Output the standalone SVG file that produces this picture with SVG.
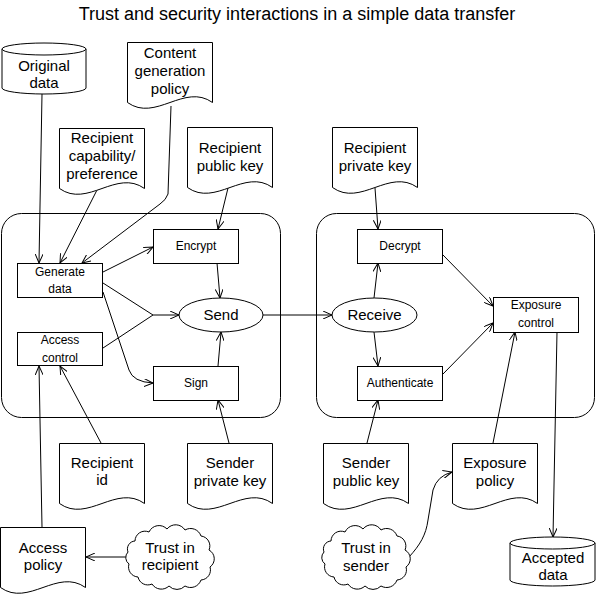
<svg xmlns="http://www.w3.org/2000/svg" width="596" height="594" viewBox="0 0 596 594">
<style>
.s{fill:#fff;stroke:#000;stroke-width:1}
.c{fill:none;stroke:#000;stroke-width:1}
text{font-family:"Liberation Sans",Arial,sans-serif;fill:#000;text-anchor:middle}
.t15{font-size:15px}
.t12{font-size:12px}
.title{font-size:18px}
</style>
<defs>
<marker id="arr" viewBox="0 0 10 8" markerUnits="userSpaceOnUse" markerWidth="10" markerHeight="8" refX="9" refY="4" orient="auto">
<path d="M0,0 L9,4 L0,8" fill="none" stroke="#000" stroke-width="1"/>
</marker>
<path id="doc" d="M0,0 H85 V60 C57,40 28,80 0,60 Z"/>
<path id="cloud" d="M8,14 A10,10 0 0 1 22,5 A11,11 0 0 1 40,2 A11,11 0 0 1 58,3 A11,11 0 0 1 74,9 A10,10 0 0 1 82,23 A10,10 0 0 1 83,40 A10,10 0 0 1 74,53 A11,11 0 0 1 58,59 A11,11 0 0 1 42,59 A11,11 0 0 1 25,57 A10,10 0 0 1 11,50 A10,10 0 0 1 2,37 A8,8 0 0 1 1,25 A8,8 0 0 1 8,14 Z"/>
</defs>
<rect width="596" height="594" fill="#fff"/>
<text class="title" x="297" y="20">Trust and security interactions in a simple data transfer</text>

<g id="sender-boundary"><rect class="s" x="1.5" y="213.5" width="279" height="204" rx="20" ry="20"/></g>
<g id="receiver-boundary"><rect class="s" x="316.5" y="213.5" width="278" height="204" rx="20" ry="20"/></g>

<g id="connectors">
<path class="c" d="M42,94 L39,263" marker-end="url(#arr)"/>
<path class="c" d="M97,190 L60,263" marker-end="url(#arr)"/>
<path class="c" d="M171,106 L168,194 Q166,200 160,204 L82,263" marker-end="url(#arr)"/>
<path class="c" d="M228,188 L218,229" marker-end="url(#arr)"/>
<path class="c" d="M217,263 L220,298" marker-end="url(#arr)"/>
<path class="c" d="M218,366 L221,332" marker-end="url(#arr)"/>
<path class="c" d="M229,443 L218,400" marker-end="url(#arr)"/>
<path class="c" d="M103,272 L153,247" marker-end="url(#arr)"/>
<path class="c" d="M103,283 L153,315 M103,348 L153,315"/>
<path class="c" d="M153,315 L179,315" marker-end="url(#arr)"/>
<path class="c" d="M103,292 L129,370 Q133,382 153,383" marker-end="url(#arr)"/>
<path class="c" d="M101,443 L60,366" marker-end="url(#arr)"/>
<path class="c" d="M42,527 L39,366" marker-end="url(#arr)"/>
<path class="c" d="M127,557 L86,557" marker-end="url(#arr)"/>
<path class="c" d="M263,315 L332,315" marker-end="url(#arr)"/>
<path class="c" d="M375,188 L378,229" marker-end="url(#arr)"/>
<path class="c" d="M374,298 L378,263" marker-end="url(#arr)"/>
<path class="c" d="M374,332 L378,366" marker-end="url(#arr)"/>
<path class="c" d="M367,443 L378,400" marker-end="url(#arr)"/>
<path class="c" d="M443,255 L493,306" marker-end="url(#arr)"/>
<path class="c" d="M443,374 L493,323" marker-end="url(#arr)"/>
<path class="c" d="M493,443 L515,332" marker-end="url(#arr)"/>
<path class="c" d="M557,332 L553,537" marker-end="url(#arr)"/>
<path class="c" d="M409,557 C420,545 426,535 428,520 L433,490 Q437,476 452,472" marker-end="url(#arr)"/>
</g>

<g id="original-data">
<path class="s" d="M2,49 V88 A42,6 0 0 0 86,88 V49"/>
<ellipse class="s" cx="44" cy="49" rx="42" ry="6"/>
<text class="t15" x="44" y="71">Original</text>
<text class="t15" x="44" y="88">data</text>
</g>

<g id="content-generation-policy">
<use href="#doc" class="s" transform="translate(127.5,42.5)"/>
<text class="t15" x="170" y="58">Content</text>
<text class="t15" x="170" y="76">generation</text>
<text class="t15" x="170" y="94">policy</text>
</g>

<g id="recipient-capability">
<use href="#doc" class="s" transform="translate(59.5,128.5)"/>
<text class="t15" x="102" y="143">Recipient</text>
<text class="t15" x="102" y="161">capability/</text>
<text class="t15" x="102" y="179">preference</text>
</g>

<g id="recipient-public-key">
<use href="#doc" class="s" transform="translate(187.5,127.5)"/>
<text class="t15" x="230" y="153">Recipient</text>
<text class="t15" x="230" y="171">public key</text>
</g>

<g id="recipient-private-key">
<use href="#doc" class="s" transform="translate(332.5,127.5)"/>
<text class="t15" x="375" y="153">Recipient</text>
<text class="t15" x="375" y="171">private key</text>
</g>

<g id="generate-data">
<rect class="s" x="17.5" y="263.5" width="85" height="34"/>
<text class="t12" x="60" y="276">Generate</text>
<text class="t12" x="60" y="293">data</text>
</g>

<g id="access-control">
<rect class="s" x="17.5" y="332.5" width="85" height="33"/>
<text class="t12" x="60" y="344">Access</text>
<text class="t12" x="60" y="362">control</text>
</g>

<g id="encrypt">
<rect class="s" x="153.5" y="229.5" width="85" height="34"/>
<text class="t12" x="196" y="250">Encrypt</text>
</g>

<g id="sign">
<rect class="s" x="153.5" y="366.5" width="85" height="34"/>
<text class="t12" x="196" y="387">Sign</text>
</g>

<g id="send">
<ellipse class="s" cx="221" cy="315" rx="42" ry="17"/>
<text class="t15" x="221" y="320">Send</text>
</g>

<g id="receive">
<ellipse class="s" cx="374.5" cy="315" rx="42.5" ry="17"/>
<text class="t15" x="374.5" y="320">Receive</text>
</g>

<g id="decrypt">
<rect class="s" x="357.5" y="229.5" width="85" height="34"/>
<text class="t12" x="400" y="250">Decrypt</text>
</g>

<g id="authenticate">
<rect class="s" x="357.5" y="366.5" width="85" height="34"/>
<text class="t12" x="400" y="387">Authenticate</text>
</g>

<g id="exposure-control">
<rect class="s" x="493.5" y="297.5" width="85" height="35"/>
<text class="t12" x="536" y="309">Exposure</text>
<text class="t12" x="536" y="327">control</text>
</g>

<g id="recipient-id">
<use href="#doc" class="s" transform="translate(59.5,443.5)"/>
<text class="t15" x="102" y="468">Recipient</text>
<text class="t15" x="102" y="485">id</text>
</g>

<g id="sender-private-key">
<use href="#doc" class="s" transform="translate(187.5,443.5)"/>
<text class="t15" x="230" y="468">Sender</text>
<text class="t15" x="230" y="486">private key</text>
</g>

<g id="sender-public-key">
<use href="#doc" class="s" transform="translate(323.5,443.5)"/>
<text class="t15" x="366" y="468">Sender</text>
<text class="t15" x="366" y="486">public key</text>
</g>

<g id="exposure-policy">
<use href="#doc" class="s" transform="translate(452.5,443.5)"/>
<text class="t15" x="495" y="468">Exposure</text>
<text class="t15" x="495" y="486">policy</text>
</g>

<g id="access-policy">
<use href="#doc" class="s" transform="translate(0.5,527.5)"/>
<text class="t15" x="43" y="553">Access</text>
<text class="t15" x="43" y="570">policy</text>
</g>

<g id="trust-in-recipient">
<use href="#cloud" class="s" transform="translate(127,527)"/>
<text class="t15" x="170" y="553">Trust in</text>
<text class="t15" x="170" y="570">recipient</text>
</g>

<g id="trust-in-sender">
<use href="#cloud" class="s" transform="translate(323,527)"/>
<text class="t15" x="366" y="553">Trust in</text>
<text class="t15" x="366" y="571">sender</text>
</g>

<g id="accepted-data">
<path class="s" d="M510,543 V580 A42.5,6 0 0 0 595,580 V543"/>
<ellipse class="s" cx="552.5" cy="543" rx="42.5" ry="6"/>
<text class="t15" x="553" y="563">Accepted</text>
<text class="t15" x="553" y="580">data</text>
</g>
</svg>
